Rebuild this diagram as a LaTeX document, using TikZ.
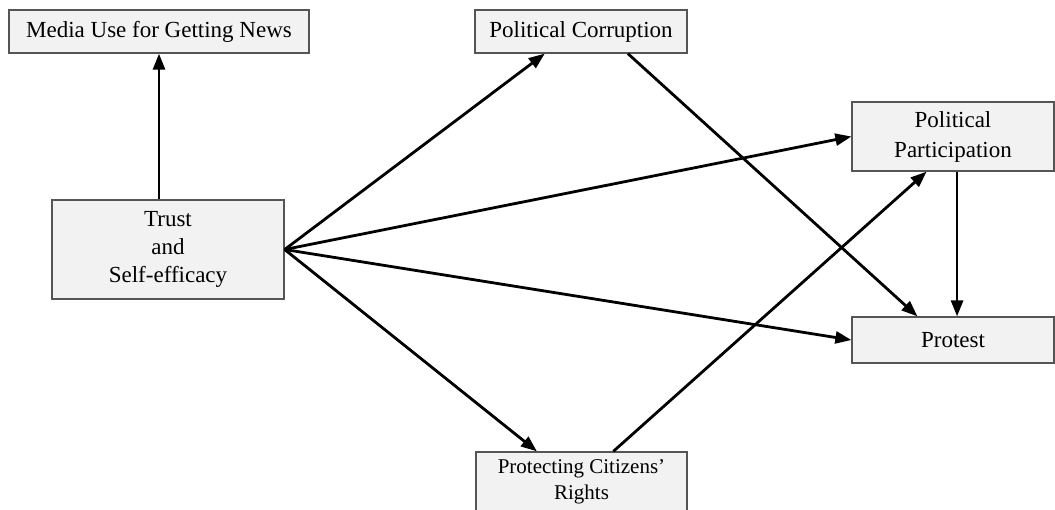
\documentclass[tikz,border=0pt]{standalone}
\usepackage{fontspec}
\setmainfont{Liberation Serif}
\usetikzlibrary{arrows.meta,calc}
\definecolor{boxfill}{HTML}{F2F2F2}
\definecolor{boxline}{HTML}{555555}
\begin{document}
\begin{tikzpicture}[x=1pt,y=-1pt,
  box/.style={draw=boxline,line width=1.3pt,fill=boxfill,inner sep=0pt,align=center,font=\fontsize{23}{30}\selectfont},
  conn/.style={line width=2.8pt,-{Triangle[length=16pt,width=12pt]}}]
\useasboundingbox (0,0) rectangle (1055,509);
\node[box,minimum width=300pt,minimum height=43pt] (media) at (159,31.5) {Media Use for Getting News};
\node[box,minimum width=212pt,minimum height=43pt] (corr) at (581,31.5) {Political Corruption};
\node[box,minimum width=202pt,minimum height=69pt] (part) at (953,136.5) {Political\\Participation};
\node[box,minimum width=232pt,minimum height=99pt,font=\fontsize{23}{28}\selectfont] (trust) at (168,249.5) {Trust\\and\\Self-efficacy};
\node[box,minimum width=202pt,minimum height=46pt] (prot) at (953,340) {Protest};
\node[box,minimum width=211pt,minimum height=60pt,font=\fontsize{21}{26}\selectfont] (rights) at (581.5,482) {Protecting Citizens'\\Rights};
\draw[conn] (trust.north -| media.south) -- (media.south);
\draw[conn] (trust.east) -- ($(corr.south west)!0.33!(corr.south east)$);
\draw[conn] (trust.east) -- (part.west);
\draw[conn] (trust.east) -- (prot.west);
\draw[conn] (trust.east) -- ($(rights.north west)!0.29!(rights.north east)$);
\draw[conn] ($(corr.south west)!0.72!(corr.south east)$) -- ($(prot.north west)!0.325!(prot.north east)$);
\draw[conn] ($(part.south west)!0.52!(part.south east)$) -- ($(prot.north west)!0.52!(prot.north east)$);
\draw[conn] ($(rights.north west)!0.65!(rights.north east)$) -- ($(part.south west)!0.37!(part.south east)$);
\end{tikzpicture}
\end{document}
